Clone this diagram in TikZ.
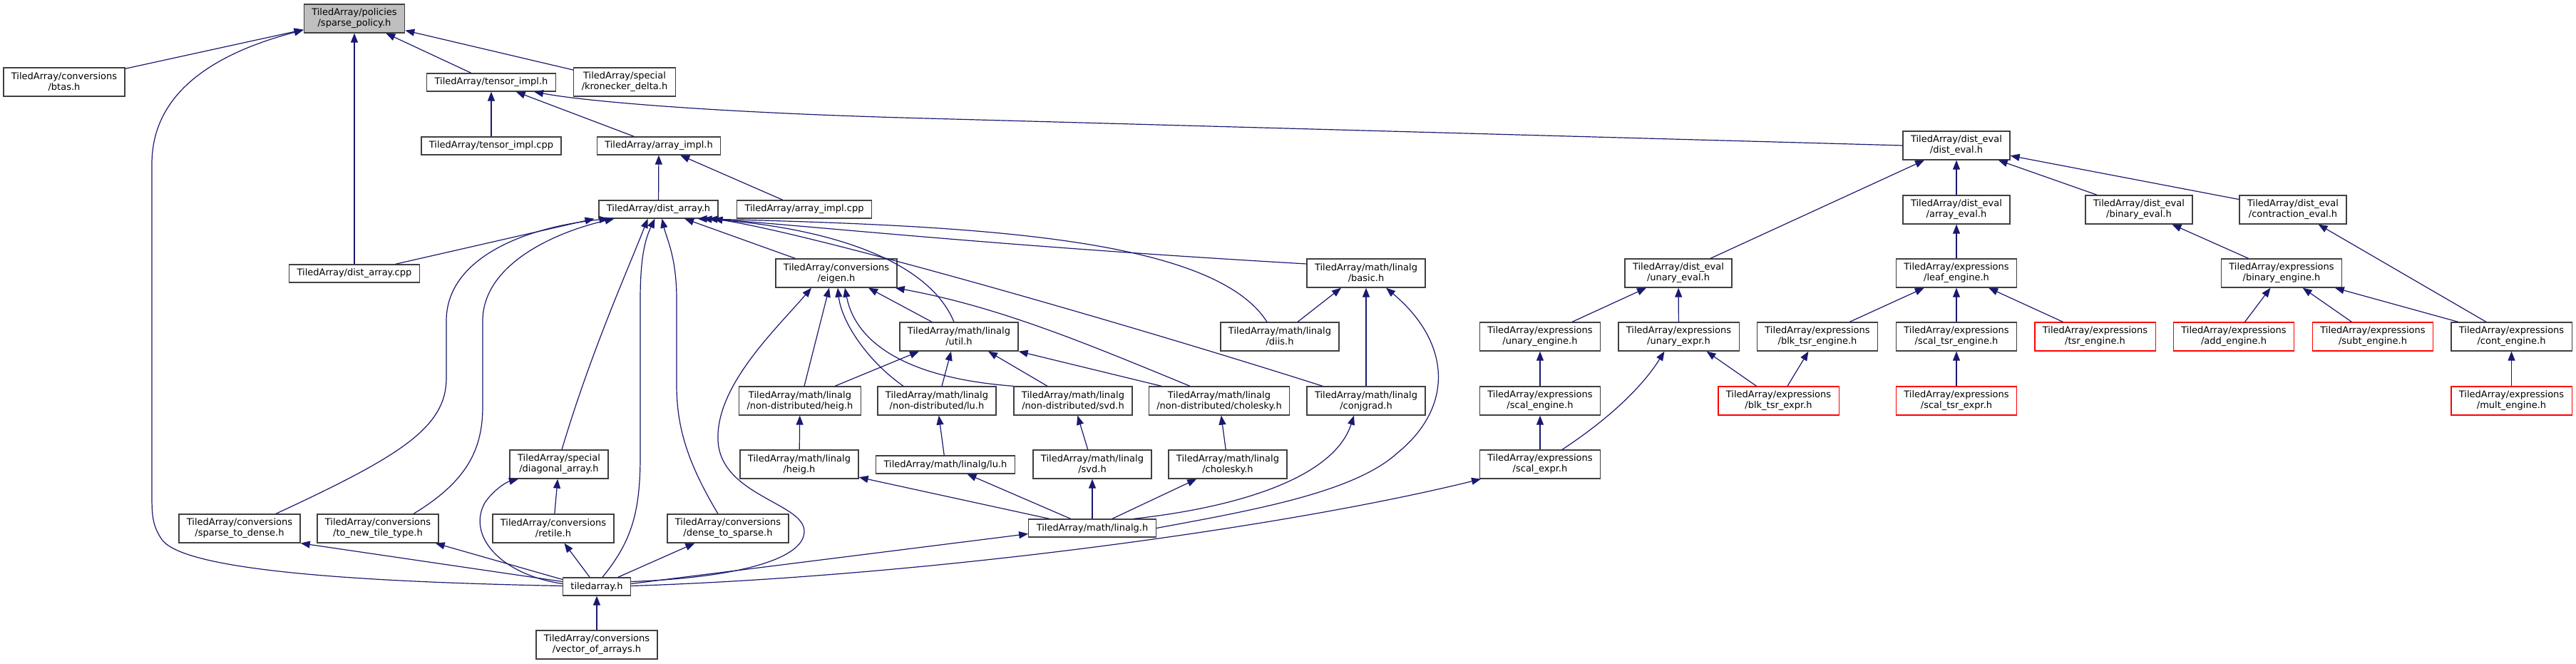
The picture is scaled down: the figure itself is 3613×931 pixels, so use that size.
\documentclass[tikz,border=0pt]{standalone}
\usepackage{fontspec}
\setmainfont{DejaVu Sans}
\usepackage{xcolor}
\usepackage{tikz}
\usetikzlibrary{arrows.meta}
\definecolor{incblue}{HTML}{191970}
\definecolor{boxline}{HTML}{404040}
\definecolor{rootfill}{HTML}{BFBFBF}

\begin{document}
\begin{tikzpicture}[
  x=1pt, y=-1pt,
  box/.style={draw=boxline, line width=1.3pt, fill=white, align=center, inner xsep=11pt, inner ysep=6pt, minimum height=25pt, font=\fontsize{13pt}{15pt}\selectfont},
  two/.style={box, minimum height=40pt},
  redbox/.style={two, draw=red},
  rootbox/.style={two, fill=rootfill},
  arr/.style={draw=incblue, line width=1.2pt, -{Triangle[length=13pt,width=10pt]}}
]
\useasboundingbox (0,0) rectangle (3613,931);

% left part
\node[rootbox] (policy) at (497,26) {TiledArray/policies\\/sparse\_policy.h};
\node[two] (btas) at (90,115) {TiledArray/conversions\\/btas.h};
\node[box] (timpl) at (689,115.5) {TiledArray/tensor\_impl.h};
\node[two] (kron) at (876,115) {TiledArray/special\\/kronecker\_delta.h};
\node[box] (timplcpp) at (689,204.5) {TiledArray/tensor\_impl.cpp};
\node[box] (aimpl) at (924,204.5) {TiledArray/array\_impl.h};
\node[box] (darr) at (923.5,293.5) {TiledArray/dist\_array.h};
\node[box] (aimplcpp) at (1128,293.5) {TiledArray/array\_impl.cpp};
\node[box] (darrcpp) at (497,383.5) {TiledArray/dist\_array.cpp};
\node[two] (eigen) at (1173,383) {TiledArray/conversions\\/eigen.h};
\node[two] (basic) at (1916,383) {TiledArray/math/linalg\\/basic.h};
\node[two] (util) at (1345,472) {TiledArray/math/linalg\\/util.h};
\node[two] (diis) at (1795,472) {TiledArray/math/linalg\\/diis.h};
\node[two] (heignd) at (1122,562) {TiledArray/math/linalg\\/non-distributed/heig.h};
\node[two] (lund) at (1314,562) {TiledArray/math/linalg\\/non-distributed/lu.h};
\node[two] (svdnd) at (1505,562) {TiledArray/math/linalg\\/non-distributed/svd.h};
\node[two] (cholnd) at (1710,562) {TiledArray/math/linalg\\/non-distributed/cholesky.h};
\node[two] (conjgrad) at (1916,562) {TiledArray/math/linalg\\/conjgrad.h};
\node[two] (diag) at (784,651) {TiledArray/special\\/diagonal\_array.h};
\node[two] (heig) at (1121,651) {TiledArray/math/linalg\\/heig.h};
\node[box] (lu) at (1326,651.5) {TiledArray/math/linalg/lu.h};
\node[two] (svd) at (1532,651) {TiledArray/math/linalg\\/svd.h};
\node[two] (chol) at (1722,651) {TiledArray/math/linalg\\/cholesky.h};
\node[two] (stod) at (336,741) {TiledArray/conversions\\/sparse\_to\_dense.h};
\node[two] (tnt) at (530,741) {TiledArray/conversions\\/to\_new\_tile\_type.h};
\node[two] (retile) at (776,741) {TiledArray/conversions\\/retile.h};
\node[two] (dtos) at (1021,741) {TiledArray/conversions\\/dense\_to\_sparse.h};
\node[box] (linalg) at (1532,740.5) {TiledArray/math/linalg.h};
\node[box] (ta) at (837,822.5) {tiledarray.h};
\node[two] (voa) at (837,904) {TiledArray/conversions\\/vector\_of\_arrays.h};

% dist_eval and expressions
\node[two] (deval) at (2744,204) {TiledArray/dist\_eval\\/dist\_eval.h};
\node[two] (aeval) at (2744,294) {TiledArray/dist\_eval\\/array\_eval.h};
\node[two] (beval) at (3000,294) {TiledArray/dist\_eval\\/binary\_eval.h};
\node[two] (ceval) at (3216,294) {TiledArray/dist\_eval\\/contraction\_eval.h};
\node[two] (ueval) at (2354,383) {TiledArray/dist\_eval\\/unary\_eval.h};
\node[two] (leaf) at (2744,383) {TiledArray/expressions\\/leaf\_engine.h};
\node[two] (beng) at (3200,383) {TiledArray/expressions\\/binary\_engine.h};
\node[two] (ueng) at (2160,472) {TiledArray/expressions\\/unary\_engine.h};
\node[two] (uexpr) at (2354.5,472) {TiledArray/expressions\\/unary\_expr.h};
\node[two] (blkeng) at (2549,472) {TiledArray/expressions\\/blk\_tsr\_engine.h};
\node[two] (stseng) at (2744,472) {TiledArray/expressions\\/scal\_tsr\_engine.h};
\node[redbox] (tsreng) at (2938.5,472) {TiledArray/expressions\\/tsr\_engine.h};
\node[redbox] (addeng) at (3133,472) {TiledArray/expressions\\/add\_engine.h};
\node[redbox] (subteng) at (3328,472) {TiledArray/expressions\\/subt\_engine.h};
\node[two] (conteng) at (3522.5,472) {TiledArray/expressions\\/cont\_engine.h};
\node[two] (scaleng) at (2160,562) {TiledArray/expressions\\/scal\_engine.h};
\node[redbox] (blkexpr) at (2494.5,562) {TiledArray/expressions\\/blk\_tsr\_expr.h};
\node[redbox] (stsexpr) at (2744,562) {TiledArray/expressions\\/scal\_tsr\_expr.h};
\node[redbox] (multeng) at (3522.5,562) {TiledArray/expressions\\/mult\_engine.h};
\node[two] (scalexpr) at (2160,651) {TiledArray/expressions\\/scal\_expr.h};

% includes of sparse_policy.h
\draw[arr] (btas) -- (policy);
\draw[arr] (timpl) -- (policy);
\draw[arr] (kron) -- (policy);
\draw[arr] (darrcpp) -- (policy);
\draw[arr] ([yshift=1pt]ta.west) .. controls (450,815) and (250,795) .. (226,755) .. controls (213,735) and (213,720) .. (213,690) -- (213,230) .. controls (213,130) and (300,75) .. ([yshift=-16pt]policy.west);

% tensor_impl.h, array_impl.h
\draw[arr] (timplcpp) -- (timpl);
\draw[arr] (aimpl) -- (timpl);
\draw[arr] (deval.west) -- (1300,166) .. controls (1000,158) and (820,142) .. ([xshift=60pt]timpl.south);
\draw[arr] (darr) -- (aimpl);
\draw[arr] (aimplcpp) -- (aimpl);

% dist_array.h
\draw[arr] (darrcpp) -- ([xshift=-90pt]darr.south);
\draw[arr] ([xshift=51pt]stod.north) .. controls (560,640) and (626,600) .. (626,530) -- (626,450) .. controls (626,360) and (740,318) .. ([xshift=-70pt]darr.south);
\draw[arr] ([xshift=50pt]tnt.north) .. controls (655,675) and (677,630) .. (677,570) -- (677,450) .. controls (677,370) and (780,325) .. ([xshift=-62pt]darr.south);
\draw[arr] ([xshift=4pt]diag.north) .. controls (830,490) and (880,380) .. ([xshift=-15pt]darr.south);
\draw[arr] ([xshift=8pt]ta.north) .. controls (885,760) and (898,720) .. (898,640) -- (898,420) .. controls (898,360) and (905,335) .. ([xshift=-5pt]darr.south);
\draw[arr] ([xshift=-14pt]dtos.north) .. controls (965,650) and (949,600) .. (949,540) -- (949,420) .. controls (949,360) and (935,335) .. ([xshift=5pt]darr.south);
\draw[arr] (eigen) -- (darr);
\draw[arr] ([xshift=-7pt]util.north) .. controls (1300,360) and (1150,318) .. ([xshift=62pt]darr.south);
\draw[arr] ([yshift=13pt]basic.west) .. controls (1400,345) and (1150,318) .. ([xshift=70pt]darr.south);
\draw[arr] ([xshift=-18pt]diis.north) .. controls (1700,330) and (1350,316) .. ([xshift=55pt]darr.south);
\draw[arr] ([xshift=-61pt]conjgrad.north) .. controls (1600,460) and (1150,330) .. ([xshift=77pt]darr.south);

% eigen.h
\draw[arr] ([yshift=7pt]ta.east) .. controls (1030,810) and (1128,785) .. (1128,745) .. controls (1128,705) and (1010,695) .. (1007,617) .. controls (1004,540) and (1090,460) .. ([xshift=-35pt]eigen.south);
\draw[arr] ([xshift=6pt]heignd.north) -- ([xshift=-10pt]eigen.south);
\draw[arr] ([xshift=-47pt]lund.north) .. controls (1215,505) and (1180,450) .. ([xshift=2pt]eigen.south);
\draw[arr] (svdnd.north west) .. controls (1270,530) and (1200,480) .. ([xshift=12pt]eigen.south);
\draw[arr] ([xshift=-38pt]util.north) -- ([xshift=45pt]eigen.south);
\draw[arr] ([xshift=-41pt]cholnd.north) .. controls (1520,480) and (1400,430) .. ([xshift=-3pt]eigen.south east);

% math/linalg
\draw[arr] ([xshift=49pt]heignd.north) -- ([xshift=-56pt]util.south);
\draw[arr] ([xshift=7pt]lund.north) -- ([xshift=-11pt]util.south);
\draw[arr] ([xshift=-36pt]svdnd.north) -- ([xshift=41pt]util.south);
\draw[arr] ([xshift=-81pt]cholnd.north) -- (util.south east);
\draw[arr] (heig) -- (heignd);
\draw[arr] (lu) -- (lund);
\draw[arr] (svd) -- (svdnd);
\draw[arr] (chol) -- (cholnd);
\draw[arr] (linalg) -- (heig);
\draw[arr] (linalg) -- (lu);
\draw[arr] (linalg) -- (svd);
\draw[arr] (linalg) -- (chol);
\draw[arr] ([xshift=58pt]linalg.north) .. controls (1730,712) and (1870,672) .. ([xshift=-17pt]conjgrad.south);
\draw[arr] (linalg.east) .. controls (1760,715) and (1900,690) .. (1960,635) .. controls (2040,570) and (2035,480) .. ([xshift=28pt]basic.south);
\draw[arr] ([xshift=25pt]diis.north) -- ([xshift=-35pt]basic.south);
\draw[arr] (conjgrad) -- (basic);

% tiledarray.h
\draw[arr] (voa) -- (ta);
\draw[arr] (ta) -- (retile);
\draw[arr] (ta) -- (dtos);
\draw[arr] (retile) -- (diag);
\draw[arr] ([yshift=4pt]ta.west) .. controls (700,805) and (655,750) .. (680,705) .. controls (692,687) and (710,676) .. ([xshift=-57pt]diag.south);
\draw[arr] ([yshift=7pt]ta.west) -- (stod.south east);
\draw[arr] ([yshift=10pt]ta.west) -- ([xshift=-5pt]tnt.south east);
\draw[arr] ([yshift=4pt]ta.east) -- ([yshift=-8pt]linalg.west);
\draw[arr] ([yshift=1pt]ta.east) .. controls (1300,808) and (1800,740) .. ([xshift=-83pt]scalexpr.south);

% expressions
\draw[arr] (scalexpr) -- (scaleng);
\draw[arr] (scaleng) -- (ueng);
\draw[arr] ([xshift=31pt]scalexpr.north) .. controls (2260,585) and (2305,540) .. ([xshift=-20pt]uexpr.south);
\draw[arr] ([xshift=-31pt]blkexpr.north) -- ([xshift=39pt]uexpr.south);
\draw[arr] (ueng) -- (ueval);
\draw[arr] (uexpr) -- (ueval);
\draw[arr] (ueval) -- (deval);
\draw[arr] (aeval) -- (deval);
\draw[arr] (beval) -- (deval);
\draw[arr] (ceval) -- (deval);
\draw[arr] (leaf) -- (aeval);
\draw[arr] (blkeng) -- (leaf);
\draw[arr] (stseng) -- (leaf);
\draw[arr] (tsreng) -- (leaf);
\draw[arr] (blkexpr) -- (blkeng);
\draw[arr] (stsexpr) -- (stseng);
\draw[arr] (beng) -- (beval);
\draw[arr] (conteng) -- (ceval);
\draw[arr] (addeng) -- (beng);
\draw[arr] (subteng) -- (beng);
\draw[arr] (conteng) -- (beng);
\draw[arr] (multeng) -- (conteng);
\end{tikzpicture}
\end{document}
